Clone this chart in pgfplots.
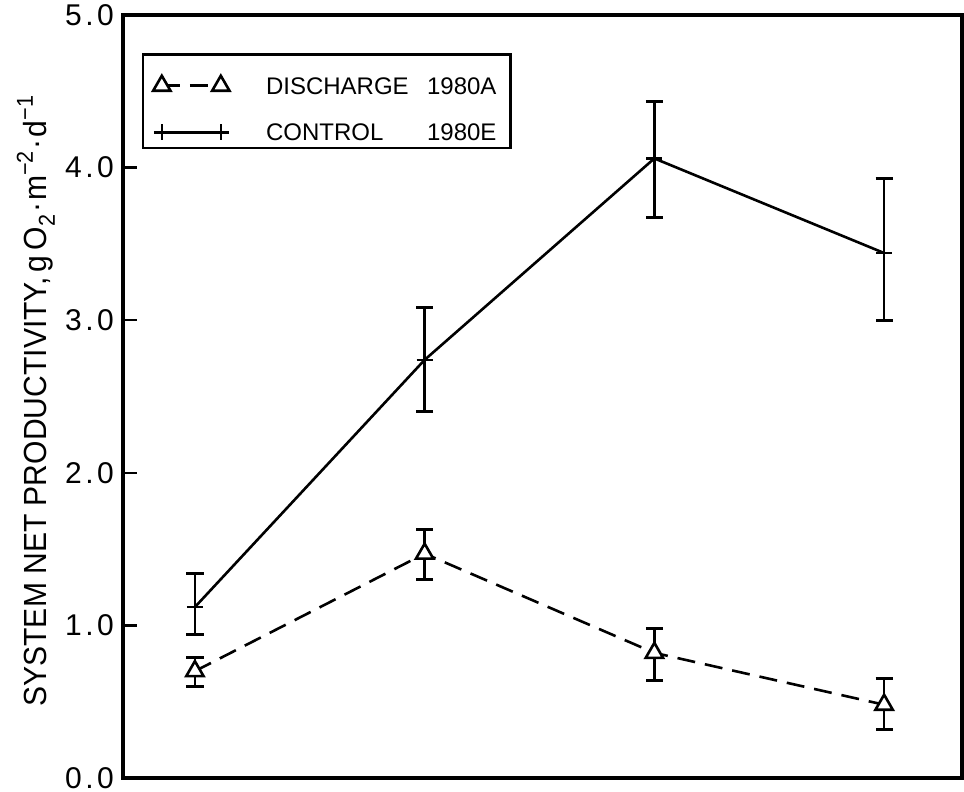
\documentclass[border=0pt]{standalone}
\usepackage{fontspec}
\setmainfont{Liberation Sans}
\newfontfamily\labelfont[FakeStretch=0.94]{Liberation Sans}
\newfontfamily\tickfont[LetterSpace=12]{Liberation Sans}
\usepackage{pgfplots}
\usepackage{pgfplotstable}
\pgfplotsset{compat=1.18}
\pgfplotstableread{
x y ep em
1 1.12 0.22 0.18
2 2.74 0.34 0.34
3 4.06 0.37 0.39
4 3.44 0.49 0.44
}\control
\pgfplotstableread{
x y ep em
1 0.70 0.09 0.10
2 1.47 0.16 0.17
3 0.82 0.16 0.18
4 0.48 0.17 0.16
}\discharge
\newcommand{\lowtxt}[1]{\raisebox{-4pt}{\fontsize{11.5}{12}\selectfont #1}}
\newcommand{\hightxt}[1]{\raisebox{7pt}{\fontsize{11.5}{12}\selectfont #1}}
\begin{document}
\begin{tikzpicture}
\begin{axis}[
  scale only axis, width=419.5pt, height=381.5pt,
  xmin=0.687, xmax=4.339, ymin=0, ymax=5,
  axis line style={line width=1.6pt},
  xtick=\empty,
  ytick={0,1,2,3,4,5},
  tick align=inside, ytick pos=left, major tick length=7pt,
  tick style={line width=1.2pt, black},
  /pgf/number format/fixed, /pgf/number format/fixed zerofill,
  /pgf/number format/precision=1, /pgf/number format/assume math mode=true,
  yticklabel style={font=\tickfont\fontsize{15}{16}\selectfont, xshift=-1pt},
  ylabel={SYSTEM NET PRODUCTIVITY,\,g\,O\lowtxt{2}\kern1pt·\kern1pt m\hightxt{−2}\kern1pt·\kern1pt d\hightxt{−1}},
  ylabel style={at={(axis description cs:-0.0906,0.093)}, anchor=base west,
    inner sep=0pt, font=\labelfont\fontsize{16}{17}\selectfont},
  legend image code/.code={\draw[#1] plot coordinates {(0pt,4.3pt) (29.5pt,4.3pt)};},
  legend style={at={(axis description cs:0.0226,0.950)}, anchor=north west,
    draw=black, line width=1.2pt, font=\fontsize{12}{14}\selectfont,
    cells={anchor=base west, inner xsep=0pt},
    column sep=16.3pt, row sep=9.4pt, inner xsep=5pt, inner ysep=0pt},
  error bars/error bar style={line width=1.3pt},
  error bars/error mark options={rotate=90, mark size=4.3pt, line width=1.5pt},
]
% error bars drawn first, so the markers sit on top of them
\addplot[black, draw=none, mark=none, forget plot,
  error bars/.cd, y dir=both, y explicit]
  table[x=x, y=y, y error plus=ep, y error minus=em]{\discharge};
\addplot[black, draw=none, mark=none, forget plot,
  error bars/.cd, y dir=both, y explicit]
  table[x=x, y=y, y error plus=ep, y error minus=em]{\control};
\addplot[black, line width=1.3pt, dash pattern=on 9pt off 5pt, mark=triangle*,
  mark size=5pt, mark options={solid, line width=1.3pt, fill=white}]
  table[x=x, y=y]{\discharge};
\addlegendentry{\rule{0pt}{18pt}\makebox[80.5pt][l]{DISCHARGE}1980A}
\addplot[black, line width=1.3pt, mark=+, mark size=4pt,
  mark options={solid, line width=1.3pt}]
  table[x=x, y=y]{\control};
\addlegendentry{\makebox[80.5pt][l]{CONTROL}1980E}
\end{axis}
\pgfresetboundingbox
\path ([shift={(-61.5pt,-7pt)}]current axis.south west) rectangle ([shift={(1pt,7.5pt)}]current axis.north east);
\end{tikzpicture}
\end{document}
